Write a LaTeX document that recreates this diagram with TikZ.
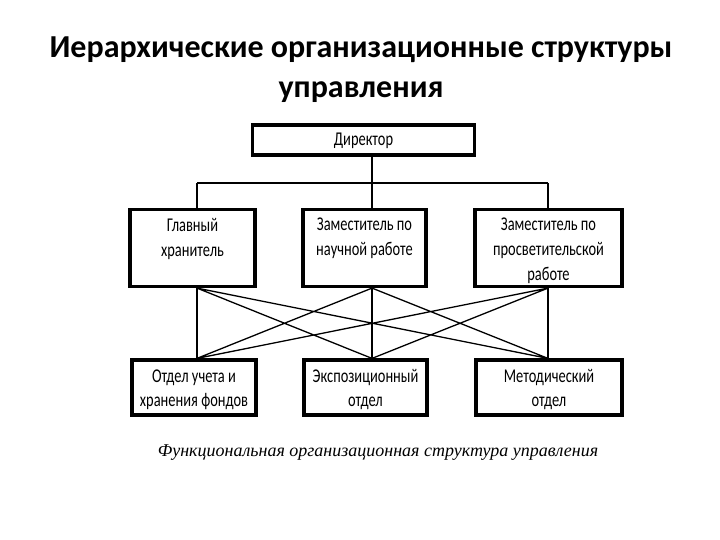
\documentclass[tikz,border=0pt]{standalone}
\usepackage{fontspec}
\setmainfont{Carlito}
\newfontfamily\boxfont[FakeStretch=0.74]{Carlito}
\newfontfamily\capfont{Liberation Serif}
\begin{document}
\begin{tikzpicture}[x=1pt,y=-1pt,
  box/.style={draw,line width=3.2pt,inner sep=0pt},
  boxtext/.style={inner sep=0pt,align=center,font=\boxfont\fontsize{19.5}{25}\selectfont},
  vline/.style={line width=2.8pt},
  dline/.style={line width=1.3pt}]
\useasboundingbox (0,0) rectangle (720,540);
\fill[white] (0,0) rectangle (720,540);
\node[font=\bfseries\fontsize{32}{40}\selectfont,align=center] (title) at (361,70) {Иерархические организационные структуры\\управления};
\node[box,minimum width=222pt,minimum height=30pt] (dir) at (363.5,140) {};
\node[boxtext] (dirx) at ([yshift=-1pt]dir.center) {Директор};
\node[box,minimum width=125pt,minimum height=77pt] (t1) at (192.5,248) {};
\node[box,minimum width=123pt,minimum height=77pt] (t2) at (364.5,248) {};
\node[box,minimum width=147pt,minimum height=77pt] (t3) at (548.5,248) {};
\node[boxtext,anchor=north] (t1x) at ([yshift=-10pt]t1.north) {Главный\\хранитель};
\node[boxtext,anchor=north] (t2x) at ([yshift=-10pt]t2.north) {Заместитель по\\научной работе};
\node[boxtext,anchor=north] (t3x) at ([yshift=-10pt]t3.north) {Заместитель по\\просветительской\\работе};
\node[box,minimum width=124pt,minimum height=55pt] (b1) at (194,387.5) {};
\node[box,minimum width=123pt,minimum height=55pt] (b2) at (365.5,387.5) {};
\node[box,minimum width=146pt,minimum height=55pt] (b3) at (549,387.5) {};
\node[boxtext,font=\boxfont\fontsize{19.5}{24}\selectfont] (b1x) at ([yshift=-2pt]b1.center) {Отдел учета и\\хранения фондов};
\node[boxtext,font=\boxfont\fontsize{19.5}{24}\selectfont] (b2x) at ([yshift=-2pt]b2.center) {Экспозиционный\\отдел};
\node[boxtext,font=\boxfont\fontsize{19.5}{24}\selectfont] (b3x) at ([yshift=-2pt]b3.center) {Методический\\отдел};
\coordinate (bar) at (372,183);
\coordinate (barL) at (197,183);
\coordinate (barR) at (548,183);
\draw[vline] (dir.south -| bar) -- (bar);
\draw[vline] (barL) -- (barR);
\draw[vline] (barL) -- (t1.north -| barL);
\draw[vline] (bar) -- (t2.north -| bar);
\draw[vline] (barR) -- (t3.north -| barR);
\coordinate (u1) at (t1.south -| barL);
\coordinate (u2) at (t2.south -| bar);
\coordinate (u3) at (t3.south -| barR);
\coordinate (d1) at (b1.north -| barL);
\coordinate (d2) at (b2.north -| bar);
\coordinate (d3) at (b3.north -| barR);
\draw[vline] (u1) -- (d1);
\draw[vline] (u2) -- (d2);
\draw[vline] (u3) -- (d3);
\draw[dline] (u1) -- (d2) (u1) -- (d3) (u2) -- (d1) (u2) -- (d3) (u3) -- (d1) (u3) -- (d2);
\node[font=\capfont\itshape\fontsize{18}{22}\selectfont] (cap) at (378,453) {Функциональная организационная структура управления};
\end{tikzpicture}
\end{document}
